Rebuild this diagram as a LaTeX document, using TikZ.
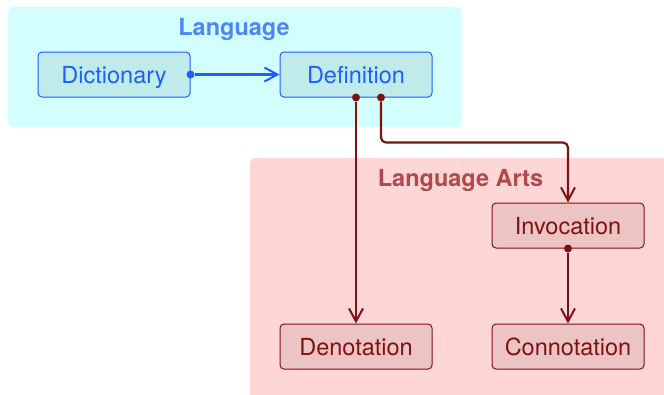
\documentclass[tikz,border=0pt]{standalone}
\usepackage{fontspec}
\setmainfont{TeX Gyre Heros}
\usetikzlibrary{arrows.meta}
\definecolor{langbg}{HTML}{D3FEFE}
\definecolor{langnode}{HTML}{C0EBEB}
\definecolor{langline}{HTML}{1E5EFF}
\definecolor{langtitle}{HTML}{4D86F7}
\definecolor{artsbg}{HTML}{FFD6D6}
\definecolor{artsnode}{HTML}{ECC4C4}
\definecolor{artsline}{HTML}{7E1212}
\definecolor{artstitle}{HTML}{B04A4A}
\tikzset{
  box/.style={rectangle, rounded corners=4pt, minimum width=152pt, minimum height=45pt,
    inner sep=0pt, text height=17pt, text depth=0pt, font=\fontsize{23.5}{26}\selectfont, line width=1pt},
  langbox/.style={box, draw=langline, fill=langnode, text=langline},
  artsbox/.style={box, draw=artsline, fill=artsnode, text=artsline},
  grouptitle/.style={anchor=base, font=\fontsize{23.5}{26}\selectfont\bfseries, inner sep=0pt},
  link/.style={line width=2.2pt, rounded corners=5pt, shorten <=-4pt,
    {Circle[length=8pt,width=8pt,line width=0pt]}-{Straight Barb[length=13pt,width=14pt,line width=2pt]}},
}
\begin{document}
\begin{tikzpicture}[x=1pt,y=-1pt]
  \useasboundingbox (0,0) rectangle (664,394);
  \clip (0,0) rectangle (664,394);
  % group backgrounds
  \fill[langbg, rounded corners=5pt] (8,7) rectangle (462,127);
  \fill[artsbg, rounded corners=5pt] (250,158) rectangle (674,404);
  % group titles
  \node[grouptitle, text=langtitle] (langT) at (234,35) {Language};
  \node[grouptitle, text=artstitle] (artsT) at (460.5,186) {Language Arts};
  % nodes
  \node[langbox] (dict) at (114,74.5) {Dictionary};
  \node[langbox] (def) at (356,74.5) {Definition};
  \node[artsbox] (inv) at (568,225.5) {Invocation};
  \node[artsbox] (den) at (356,346.5) {Denotation};
  \node[artsbox] (con) at (568,346.5) {Connotation};
  % connectors
  \draw[link, draw=langline] (dict.east) -- (def.west);
  \draw[link, draw=artsline] (def.south) -- (den.north);
  \draw[link, draw=artsline] ([xshift=25pt]def.south) -- ++(0,-45pt) -| (inv.north);
  \draw[link, draw=artsline] (inv.south) -- (con.north);
\end{tikzpicture}
\end{document}
